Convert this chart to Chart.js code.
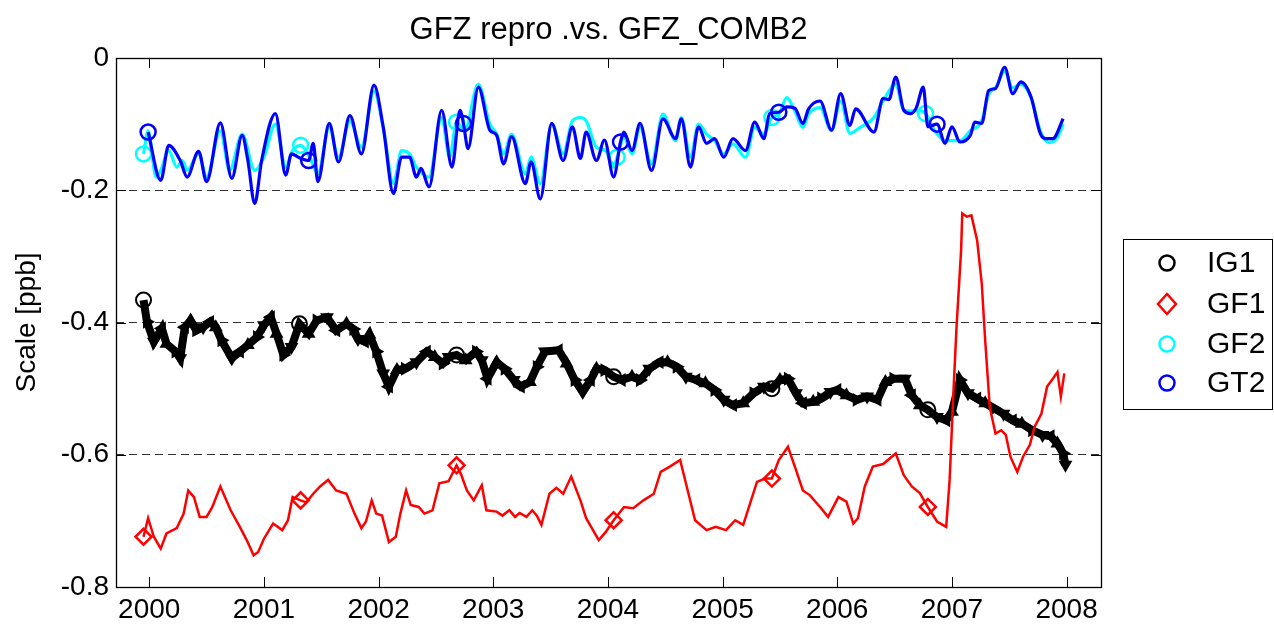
<!DOCTYPE html>
<html><head><meta charset="utf-8">
<script src="https://cdn.jsdelivr.net/npm/chart.js@4.4.0/dist/chart.umd.min.js"></script>
<style>html,body{margin:0;padding:0;background:#fff;}</style>
</head><body>
<canvas id="c" width="1274" height="625"></canvas>
<script>
const titleText = 'GFZ repro .vs. GFZ_COMB2';
const yAxisLabel = 'Scale [ppb]';
const seriesNames = ['IG1', 'GF1', 'GF2', 'GT2'];
const xTickYears = [2000, 2001, 2002, 2003, 2004, 2005, 2006, 2007, 2008];
const xTickLabels = ['2000', '2001', '2002', '2003', '2004', '2005', '2006', '2007', '2008'];
const yTickValues = [-0.8, -0.6, -0.4, -0.2, 0];
const yTickLabels = ['-0.8', '-0.6', '-0.4', '-0.2', '0'];
const dashedGridValues = [-0.6, -0.4, -0.2];

const ig1T = [1999.95,1999.98,2000.04,2000.11,2000.15,2000.23,2000.27,2000.31,2000.36,2000.41,2000.47,2000.53,2000.58,2000.63,2000.72,2000.79,2000.86,2000.94,2001.00,2001.06,2001.11,2001.17,2001.24,2001.31,2001.39,2001.46,2001.55,2001.63,2001.72,2001.78,2001.82,2001.88,2001.92,2001.98,2002.04,2002.09,2002.16,2002.23,2002.33,2002.42,2002.49,2002.56,2002.61,2002.68,2002.76,2002.85,2002.90,2002.95,2003.03,2003.10,2003.18,2003.24,2003.32,2003.38,2003.45,2003.57,2003.64,2003.71,2003.78,2003.85,2003.90,2003.97,2004.05,2004.12,2004.21,2004.28,2004.36,2004.45,2004.52,2004.60,2004.68,2004.77,2004.85,2004.93,2005.01,2005.09,2005.18,2005.27,2005.36,2005.43,2005.50,2005.57,2005.64,2005.70,2005.79,2005.86,2005.94,2006.00,2006.08,2006.17,2006.26,2006.35,2006.42,2006.49,2006.59,2006.65,2006.72,2006.79,2006.87,2006.95,2007.00,2007.07,2007.14,2007.22,2007.29,2007.37,2007.45,2007.53,2007.61,2007.70,2007.79,2007.86,2007.92,2007.97,2007.99];
const ig1V = [-0.366,-0.399,-0.429,-0.409,-0.432,-0.444,-0.454,-0.407,-0.397,-0.412,-0.407,-0.399,-0.407,-0.427,-0.454,-0.444,-0.434,-0.422,-0.404,-0.392,-0.417,-0.449,-0.437,-0.402,-0.417,-0.397,-0.392,-0.412,-0.402,-0.410,-0.425,-0.429,-0.418,-0.444,-0.477,-0.497,-0.472,-0.470,-0.460,-0.444,-0.452,-0.462,-0.452,-0.449,-0.457,-0.444,-0.457,-0.485,-0.460,-0.470,-0.487,-0.497,-0.490,-0.467,-0.444,-0.442,-0.462,-0.487,-0.505,-0.487,-0.470,-0.472,-0.482,-0.487,-0.482,-0.487,-0.470,-0.460,-0.460,-0.467,-0.482,-0.487,-0.492,-0.502,-0.517,-0.525,-0.522,-0.507,-0.497,-0.500,-0.487,-0.485,-0.507,-0.522,-0.520,-0.515,-0.505,-0.502,-0.510,-0.517,-0.512,-0.517,-0.490,-0.485,-0.485,-0.510,-0.525,-0.532,-0.543,-0.548,-0.535,-0.487,-0.507,-0.515,-0.522,-0.530,-0.538,-0.548,-0.553,-0.563,-0.570,-0.572,-0.583,-0.598,-0.615];
const ig1Marks = [1999.95, 2001.31, 2002.68, 2004.05, 2005.43, 2006.79];

const gf1T = [1999.95,1999.99,2000.04,2000.10,2000.15,2000.24,2000.30,2000.34,2000.39,2000.44,2000.50,2000.55,2000.62,2000.71,2000.79,2000.85,2000.91,2000.95,2001.00,2001.08,2001.16,2001.21,2001.25,2001.32,2001.37,2001.43,2001.49,2001.56,2001.63,2001.72,2001.79,2001.85,2001.89,2001.94,2001.98,2002.03,2002.09,2002.15,2002.19,2002.24,2002.28,2002.35,2002.40,2002.47,2002.53,2002.61,2002.68,2002.72,2002.77,2002.83,2002.90,2002.94,2003.03,2003.08,2003.14,2003.19,2003.23,2003.29,2003.34,2003.38,2003.42,2003.49,2003.55,2003.61,2003.68,2003.76,2003.81,2003.92,2003.98,2004.05,2004.14,2004.22,2004.31,2004.40,2004.46,2004.54,2004.63,2004.68,2004.76,2004.86,2004.94,2005.03,2005.11,2005.18,2005.23,2005.30,2005.37,2005.43,2005.49,2005.57,2005.64,2005.70,2005.76,2005.85,2005.92,2006.01,2006.08,2006.14,2006.18,2006.24,2006.31,2006.40,2006.51,2006.58,2006.65,2006.72,2006.79,2006.87,2006.95,2006.98,2007.01,2007.04,2007.08,2007.09,2007.13,2007.17,2007.22,2007.26,2007.29,2007.33,2007.38,2007.43,2007.47,2007.51,2007.57,2007.62,2007.68,2007.72,2007.78,2007.83,2007.88,2007.92,2007.95,2007.98];
const gf1V = [-0.724,-0.696,-0.724,-0.742,-0.719,-0.711,-0.689,-0.654,-0.664,-0.694,-0.694,-0.679,-0.648,-0.684,-0.709,-0.729,-0.752,-0.747,-0.727,-0.704,-0.714,-0.699,-0.664,-0.669,-0.672,-0.659,-0.648,-0.638,-0.654,-0.659,-0.689,-0.711,-0.701,-0.669,-0.689,-0.692,-0.732,-0.724,-0.689,-0.654,-0.676,-0.679,-0.689,-0.684,-0.643,-0.640,-0.616,-0.630,-0.654,-0.669,-0.646,-0.684,-0.686,-0.692,-0.684,-0.694,-0.688,-0.694,-0.684,-0.692,-0.706,-0.659,-0.650,-0.659,-0.633,-0.669,-0.696,-0.729,-0.717,-0.699,-0.679,-0.681,-0.669,-0.659,-0.626,-0.618,-0.608,-0.643,-0.699,-0.714,-0.709,-0.714,-0.699,-0.706,-0.679,-0.641,-0.636,-0.636,-0.608,-0.588,-0.623,-0.654,-0.661,-0.679,-0.694,-0.664,-0.671,-0.704,-0.696,-0.648,-0.618,-0.614,-0.598,-0.631,-0.648,-0.658,-0.679,-0.701,-0.709,-0.638,-0.517,-0.407,-0.291,-0.235,-0.240,-0.238,-0.276,-0.341,-0.427,-0.528,-0.568,-0.563,-0.570,-0.603,-0.626,-0.603,-0.585,-0.558,-0.538,-0.497,-0.485,-0.475,-0.512,-0.477];
const gf1Marks = [1999.95, 2001.32, 2002.68, 2004.05, 2005.43, 2006.79];

const gf2T = [1999.95,1999.99,2000.06,2000.10,2000.17,2000.24,2000.29,2000.33,2000.43,2000.50,2000.62,2000.70,2000.81,2000.92,2001.00,2001.10,2001.19,2001.25,2001.32,2001.40,2001.47,2001.57,2001.65,2001.75,2001.85,2001.96,2002.04,2002.13,2002.20,2002.27,2002.33,2002.44,2002.55,2002.62,2002.68,2002.75,2002.87,2002.97,2003.03,2003.09,2003.16,2003.28,2003.33,2003.41,2003.51,2003.61,2003.69,2003.76,2003.81,2003.90,2003.98,2004.05,2004.08,2004.14,2004.21,2004.28,2004.38,2004.48,2004.59,2004.64,2004.72,2004.79,2004.86,2004.93,2005.01,2005.09,2005.20,2005.28,2005.36,2005.43,2005.49,2005.56,2005.63,2005.70,2005.75,2005.85,2005.95,2006.03,2006.11,2006.20,2006.32,2006.40,2006.51,2006.58,2006.64,2006.72,2006.77,2006.85,2006.94,2007.07,2007.16,2007.26,2007.32,2007.38,2007.46,2007.53,2007.60,2007.69,2007.77,2007.85,2007.92,2007.97];
const gf2V = [-0.145,-0.110,-0.180,-0.170,-0.140,-0.165,-0.155,-0.170,-0.145,-0.180,-0.110,-0.170,-0.115,-0.170,-0.150,-0.100,-0.165,-0.140,-0.132,-0.150,-0.175,-0.105,-0.150,-0.095,-0.135,-0.050,-0.105,-0.190,-0.140,-0.145,-0.165,-0.180,-0.090,-0.150,-0.097,-0.110,-0.040,-0.100,-0.115,-0.145,-0.115,-0.175,-0.150,-0.190,-0.100,-0.145,-0.095,-0.090,-0.095,-0.135,-0.140,-0.165,-0.150,-0.120,-0.145,-0.105,-0.160,-0.085,-0.125,-0.090,-0.150,-0.100,-0.115,-0.125,-0.145,-0.130,-0.150,-0.105,-0.115,-0.090,-0.085,-0.060,-0.080,-0.105,-0.085,-0.075,-0.110,-0.065,-0.114,-0.105,-0.090,-0.065,-0.040,-0.079,-0.080,-0.080,-0.084,-0.110,-0.125,-0.125,-0.110,-0.095,-0.055,-0.045,-0.020,-0.045,-0.040,-0.060,-0.110,-0.128,-0.120,-0.100];
const gf2Marks = [1999.95, 2001.32, 2002.68, 2004.08, 2005.43, 2006.77];

const gt2T = [1999.99,2000.10,2000.17,2000.27,2000.33,2000.43,2000.50,2000.62,2000.72,2000.81,2000.86,2000.92,2000.98,2001.10,2001.19,2001.24,2001.30,2001.39,2001.43,2001.47,2001.57,2001.65,2001.75,2001.85,2001.96,2002.04,2002.13,2002.20,2002.27,2002.33,2002.37,2002.44,2002.55,2002.64,2002.71,2002.74,2002.78,2002.87,2002.97,2003.03,2003.09,2003.16,2003.28,2003.33,2003.41,2003.51,2003.61,2003.69,2003.76,2003.81,2003.90,2003.97,2004.05,2004.11,2004.14,2004.21,2004.28,2004.38,2004.48,2004.59,2004.64,2004.72,2004.79,2004.86,2004.93,2005.01,2005.09,2005.20,2005.28,2005.36,2005.41,2005.49,2005.56,2005.63,2005.70,2005.75,2005.85,2005.95,2006.03,2006.11,2006.16,2006.32,2006.40,2006.45,2006.51,2006.58,2006.64,2006.69,2006.75,2006.79,2006.87,2006.94,2007.00,2007.07,2007.16,2007.20,2007.26,2007.32,2007.38,2007.46,2007.53,2007.60,2007.69,2007.77,2007.82,2007.88,2007.97];
const gt2V = [-0.112,-0.185,-0.132,-0.155,-0.180,-0.141,-0.187,-0.098,-0.182,-0.117,-0.155,-0.220,-0.155,-0.084,-0.177,-0.145,-0.150,-0.155,-0.129,-0.187,-0.099,-0.157,-0.087,-0.145,-0.041,-0.104,-0.205,-0.150,-0.150,-0.180,-0.167,-0.195,-0.079,-0.165,-0.079,-0.099,-0.137,-0.044,-0.109,-0.117,-0.160,-0.119,-0.190,-0.157,-0.213,-0.099,-0.155,-0.104,-0.152,-0.112,-0.155,-0.124,-0.180,-0.127,-0.112,-0.140,-0.099,-0.170,-0.092,-0.122,-0.092,-0.165,-0.104,-0.129,-0.122,-0.150,-0.122,-0.140,-0.097,-0.122,-0.084,-0.082,-0.074,-0.076,-0.099,-0.077,-0.065,-0.109,-0.054,-0.102,-0.077,-0.112,-0.061,-0.063,-0.029,-0.079,-0.084,-0.075,-0.044,-0.104,-0.100,-0.129,-0.104,-0.127,-0.117,-0.097,-0.099,-0.049,-0.046,-0.014,-0.054,-0.036,-0.059,-0.114,-0.122,-0.122,-0.092];
const gt2Marks = [1999.99, 2001.39, 2002.74, 2004.11, 2005.49, 2006.87];

const FONT = '"Liberation Sans", Arial, Helvetica, sans-serif';
const COLORS = ['#000000', '#ff0000', '#00ffff', '#0000ff'];

function toPoints(T, V) { return T.map((t, i) => ({ x: t, y: V[i] })); }
function isMark(marks, x) { return marks.some(m => Math.abs(m - x) < 1e-6); }

const datasets = [
  {
    label: seriesNames[0], data: toPoints(ig1T, ig1V), order: 4,
    borderColor: COLORS[0], borderWidth: 8, borderJoinStyle: 'miter',
    pointStyle: ctx => isMark(ig1Marks, ctx.raw.x) ? 'circle' : 'triangle',
    pointRadius: ctx => isMark(ig1Marks, ctx.raw.x) ? 7.5 : 6,
    pointRotation: ctx => (ctx.dataIndex % 4) * 90,
    pointBackgroundColor: ctx => isMark(ig1Marks, ctx.raw.x) ? 'rgba(255,255,255,0)' : '#000',
    pointBorderColor: '#000', pointBorderWidth: 2
  },
  {
    label: seriesNames[1], data: toPoints(gf1T, gf1V), order: 3,
    borderColor: COLORS[1], borderWidth: 2.5,
    pointStyle: 'rectRot',
    pointRadius: ctx => isMark(gf1Marks, ctx.raw.x) ? 8 : 0,
    pointBackgroundColor: 'rgba(255,255,255,0)', pointBorderColor: COLORS[1], pointBorderWidth: 2.5
  },
  {
    label: seriesNames[2], data: toPoints(gf2T, gf2V), order: 2,
    borderColor: COLORS[2], borderWidth: 3.2, cubicInterpolationMode: 'monotone',
    pointStyle: 'circle',
    pointRadius: ctx => isMark(gf2Marks, ctx.raw.x) ? 7.5 : 0,
    pointBackgroundColor: 'rgba(255,255,255,0)', pointBorderColor: COLORS[2], pointBorderWidth: 2.5
  },
  {
    label: seriesNames[3], data: toPoints(gt2T, gt2V), order: 1,
    borderColor: COLORS[3], borderWidth: 3.2, cubicInterpolationMode: 'monotone',
    pointStyle: 'circle',
    pointRadius: ctx => isMark(gt2Marks, ctx.raw.x) ? 7.5 : 0,
    pointBackgroundColor: 'rgba(255,255,255,0)', pointBorderColor: COLORS[3], pointBorderWidth: 2.5
  }
];

const decor = {
  id: 'decor',
  afterDraw(chart) {
    const ctx = chart.ctx;
    const a = chart.chartArea;
    const xs = chart.scales.x;
    const ys = chart.scales.y;
    ctx.save();
    ctx.fillStyle = '#000';
    ctx.font = '31px ' + FONT;
    ctx.textAlign = 'center';
    ctx.textBaseline = 'middle';
    ctx.fillText(titleText, (a.left + a.right) / 2, 30);
    ctx.strokeStyle = '#000';
    ctx.lineWidth = 1.3;
    ctx.strokeRect(Math.round(a.left) + 0.5, Math.round(a.top) + 0.5, Math.round(a.right - a.left), Math.round(a.bottom - a.top));
    ctx.lineWidth = 1;
    const tl = 10;
    xTickYears.forEach(v => {
      const px = Math.round(xs.getPixelForValue(v)) + 0.5;
      ctx.beginPath();
      ctx.moveTo(px, a.bottom); ctx.lineTo(px, a.bottom - tl);
      ctx.moveTo(px, a.top); ctx.lineTo(px, a.top + tl);
      ctx.stroke();
    });
    yTickValues.forEach(v => {
      const py = Math.round(ys.getPixelForValue(v)) + 0.5;
      ctx.beginPath();
      ctx.moveTo(a.left, py); ctx.lineTo(a.left + tl, py);
      ctx.moveTo(a.right, py); ctx.lineTo(a.right - tl, py);
      ctx.stroke();
    });
    const lx = 1123, ly = 239, lw = 149, lh = 170;
    ctx.fillStyle = '#fff';
    ctx.fillRect(lx, ly, lw, lh);
    ctx.strokeStyle = '#000';
    ctx.lineWidth = 1;
    ctx.strokeRect(lx + 0.5, ly + 0.5, lw, lh);
    const rows = [263, 304, 344, 383];
    ctx.font = '30px ' + FONT;
    ctx.textAlign = 'left';
    ctx.textBaseline = 'middle';
    seriesNames.forEach((name, i) => {
      const cy = rows[i], cx = 1167;
      ctx.strokeStyle = COLORS[i];
      ctx.lineWidth = 2.5;
      ctx.beginPath();
      if (i === 1) {
        ctx.moveTo(cx, cy - 10); ctx.lineTo(cx + 9, cy); ctx.lineTo(cx, cy + 10); ctx.lineTo(cx - 9, cy); ctx.closePath();
      } else {
        ctx.arc(cx, cy, 7.5, 0, Math.PI * 2);
      }
      ctx.stroke();
      ctx.fillStyle = '#000';
      ctx.fillText(name, 1207, cy + 1);
    });
    ctx.restore();
  }
};

new Chart(document.getElementById('c'), {
  type: 'line',
  data: { datasets },
  options: {
    responsive: false,
    animation: false,
    layout: { padding: { top: 58, right: 173, left: 0, bottom: 0 } },
    plugins: { legend: { display: false }, title: { display: false }, tooltip: { enabled: false } },
    elements: { line: { tension: 0 } },
    scales: {
      x: {
        type: 'linear', min: 1999.71, max: 2008.30,
        afterBuildTicks: s => { s.ticks = xTickYears.map(v => ({ value: v })); },
        afterFit: s => { s.height = 38; },
        grid: { display: false, drawTicks: false },
        border: { display: false },
        ticks: {
          autoSkip: false, maxRotation: 0, padding: 6, color: '#000',
          font: { family: FONT, size: 28 },
          callback: v => { const k = xTickYears.indexOf(v); return k >= 0 ? xTickLabels[k] : ''; }
        }
      },
      y: {
        type: 'linear', min: -0.8, max: 0,
        afterBuildTicks: s => { s.ticks = yTickValues.map(v => ({ value: v })); },
        afterFit: s => { s.width = 116; },
        grid: {
          drawTicks: false, lineWidth: 1,
          color: c => dashedGridValues.some(v => Math.abs(v - c.tick.value) < 1e-9) ? '#333' : 'rgba(0,0,0,0)'
        },
        border: { display: false, dash: [8, 5] },
        title: { display: true, text: yAxisLabel, color: '#000', font: { family: FONT, size: 28 }, padding: { top: 10, bottom: 0 } },
        ticks: {
          padding: 7, color: '#000',
          font: { family: FONT, size: 28 },
          callback: v => { const k = yTickValues.findIndex(t => Math.abs(t - v) < 1e-9); return k >= 0 ? yTickLabels[k] : ''; }
        }
      }
    }
  },
  plugins: [decor]
});
</script>
</body></html>
